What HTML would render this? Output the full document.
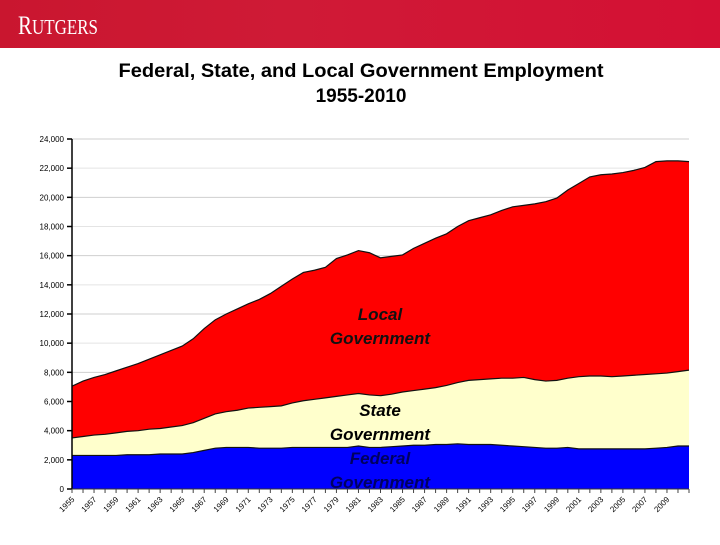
<!DOCTYPE html>
<html><head><meta charset="utf-8"><style>
body{margin:0;width:720px;height:540px;overflow:hidden;background:#fff;font-family:"Liberation Sans",Arial,sans-serif;}
</style></head><body>
<svg width="720" height="540" viewBox="0 0 720 540" xmlns="http://www.w3.org/2000/svg">
<defs><linearGradient id="hdr" x1="0" x2="1" y1="0" y2="0"><stop offset="0" stop-color="#c9162f"/><stop offset="0.4" stop-color="#cf1a36"/><stop offset="1" stop-color="#d41034"/></linearGradient></defs>
<rect x="0" y="0" width="720" height="48" fill="url(#hdr)"/>
<text x="18" y="34" font-family="Liberation Serif, serif" font-size="26" fill="#fff" textLength="80" lengthAdjust="spacingAndGlyphs">R<tspan font-size="21">UTGERS</tspan></text>
<text x="361" y="77" text-anchor="middle" font-size="19" font-weight="bold" fill="#000" textLength="485" lengthAdjust="spacingAndGlyphs">Federal, State, and Local Government Employment</text>
<text x="361" y="102" text-anchor="middle" font-size="19" font-weight="bold" fill="#000">1955-2010</text>
<g id="chart"></g>
</svg>
<script>
const years=[];for(let y=1955;y<=2011;y++)years.push(y);
const federal=[2300,2300,2300,2300,2300,2350,2350,2350,2400,2400,2400,2500,2650,2800,2850,2850,2850,2800,2800,2800,2850,2850,2850,2850,2850,2850,2950,2850,2850,2900,2950,3000,3000,3050,3050,3100,3050,3050,3050,3000,2950,2900,2850,2800,2800,2850,2750,2750,2750,2750,2750,2750,2750,2800,2850,2950,2950];
const state=[1200,1300,1400,1450,1550,1600,1650,1750,1750,1850,1950,2050,2200,2350,2450,2550,2700,2800,2850,2900,3050,3200,3300,3400,3500,3600,3600,3600,3550,3600,3700,3750,3850,3900,4050,4200,4400,4450,4500,4600,4650,4750,4650,4600,4650,4750,4950,5000,5000,4950,5000,5050,5100,5100,5100,5100,5200];
const local=[3550,3800,3950,4100,4250,4400,4600,4800,5050,5250,5450,5750,6150,6450,6700,6950,7150,7400,7750,8200,8500,8800,8850,8950,9450,9600,9800,9750,9450,9450,9400,9750,10000,10250,10400,10700,10950,11100,11250,11500,11750,11800,12050,12300,12500,12900,13250,13650,13800,13900,13950,14050,14200,14550,14550,14450,14300];
const yTicks=[0,2000,4000,6000,8000,10000,12000,14000,16000,18000,20000,22000,24000];
const yTickLabels=["0","2,000","4,000","6,000","8,000","10,000","12,000","14,000","16,000","18,000","20,000","22,000","24,000"];
const xLabelYears=[1955,1957,1959,1961,1963,1965,1967,1969,1971,1973,1975,1977,1979,1981,1983,1985,1987,1989,1991,1993,1995,1997,1999,2001,2003,2005,2007,2009];

const NS="http://www.w3.org/2000/svg";
const g=document.getElementById('chart');
const X0=72,X1=689,Y0=489,Y1=139;
const xs=i=>X0+(X1-X0)*i/(years.length-1);
const ys=v=>Y0-(Y0-Y1)*v/24000;
function mk(t,a){const e=document.createElementNS(NS,t);for(const k in a)e.setAttribute(k,a[k]);g.appendChild(e);return e;}
yTicks.forEach((v,i)=>{
  if(v>0){const l=mk('line',{x1:X0,x2:X1,y1:ys(v),y2:ys(v),stroke:(v%4000===0)?'#cfcfcf':'#e4e4e4','stroke-width':1});
  
  }
  const t=mk('line',{x1:X0-5,x2:X0,y1:ys(v),y2:ys(v),stroke:'#000','stroke-width':1.5});
  
  
  const tx=mk('text',{x:X0-8,y:ys(v)+3,'text-anchor':'end','font-size':8,fill:'#000'});
  tx.textContent=yTickLabels[i];
  
  
});
const cum1=federal.slice(), cum2=federal.map((v,i)=>v+state[i]), cum3=cum2.map((v,i)=>v+local[i]);
function area(lower,upper,fill,name){
  let d='M'+xs(0)+','+ys(upper[0]);
  for(let i=1;i<upper.length;i++)d+='L'+xs(i)+','+ys(upper[i]);
  for(let i=lower.length-1;i>=0;i--)d+='L'+xs(i)+','+ys(lower[i]);
  d+='Z';
  const p=mk('path',{d:d,fill:fill});
  
  
  let ld='M'+xs(0)+','+ys(upper[0]);
  for(let i=1;i<upper.length;i++)ld+='L'+xs(i)+','+ys(upper[i]);
  const l=mk('path',{d:ld,fill:'none',stroke:'#111','stroke-width':1.2});
  
  
}
const zeros=years.map(()=>0);
area(cum2,cum3,'#ff0000','local-area');
area(cum1,cum2,'#ffffcc','state-area');
area(zeros,cum1,'#0000ff','federal-area');
const ya=mk('line',{x1:X0,x2:X0,y1:Y1,y2:Y0,stroke:'#000','stroke-width':1.5});


const xa=mk('line',{x1:X0,x2:X1,y1:Y0,y2:Y0,stroke:'#333','stroke-width':1});


years.forEach((yr,i)=>{
  const t=mk('line',{x1:xs(i),x2:xs(i),y1:Y0,y2:Y0+4,stroke:'#444','stroke-width':1});
  
  
});
xLabelYears.forEach(yr=>{
  const i=years.indexOf(yr);const x=xs(i)+3,y=Y0+11;
  const t=mk('text',{x:x,y:y,'text-anchor':'end','font-size':8,fill:'#000',transform:'rotate(-45 '+x+' '+y+')'});
  t.textContent=yr;
  
  
});
[['Local',320,'#111','local-label'],['Government',344,'#111','local-label-2'],['State',416,'#000','state-label'],['Government',440,'#000','state-label-2'],['Federal',464,'#000060','federal-label'],['Government',488,'#000060','federal-label-2']].forEach(a=>{
  const t=mk('text',{x:380,y:a[1],'text-anchor':'middle','font-size':17,'font-weight':'bold','font-style':'italic',fill:a[2]});
  t.textContent=a[0];
  
  
});
</script>
</body></html>
